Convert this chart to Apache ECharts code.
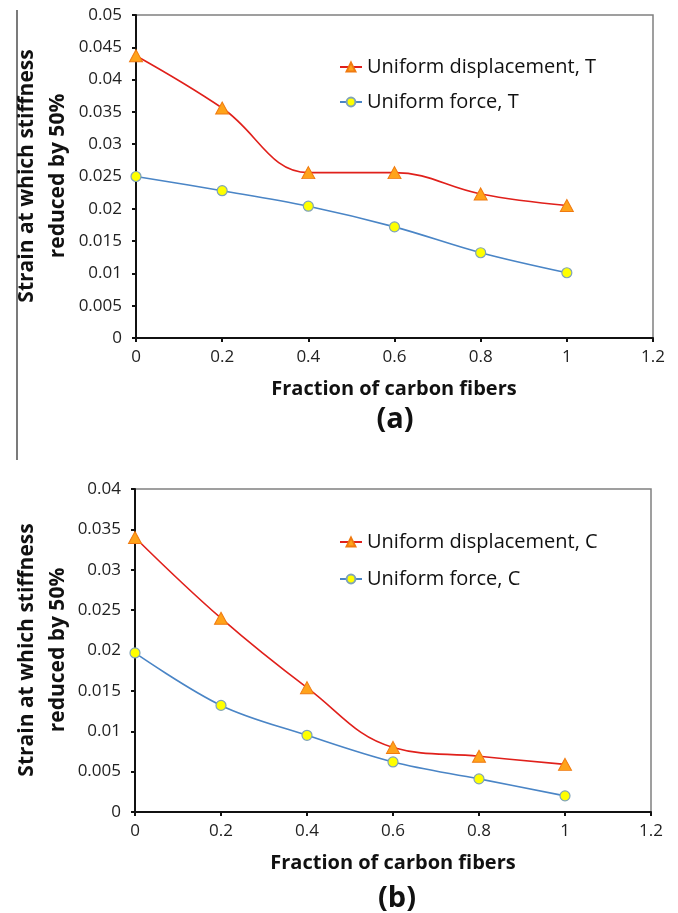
<!DOCTYPE html>
<html>
<head>
<meta charset="utf-8">
<script src="https://cdn.jsdelivr.net/npm/echarts@6/dist/echarts.min.js"></script>
<style>
html,body{margin:0;padding:0;background:#fff;}
#chart{width:678px;height:913px;}
</style>
</head>
<body>
<div id="chart"></div>
<script>
// ---- data ----
var xFractions = [0, 0.2, 0.4, 0.6, 0.8, 1];
var dispT  = [0.0437, 0.0356, 0.0256, 0.0256, 0.0223, 0.0205];
var forceT = [0.0250, 0.0228, 0.0204, 0.0172, 0.0132, 0.0101];
var dispC  = [0.0340, 0.0240, 0.0154, 0.0080, 0.0069, 0.0059];
var forceC = [0.0197, 0.0132, 0.0095, 0.0062, 0.0041, 0.0020];
var seriesNames = ['Uniform displacement, T', 'Uniform force, T', 'Uniform displacement, C', 'Uniform force, C'];
var yTitle = 'Strain at which stiffness\nreduced by 50%';
var xTitle = 'Fraction of carbon fibers';
var panelLabels = ['(a)', '(b)'];

function pairs(ys){ return xFractions.map(function(x,i){ return [x, ys[i]]; }); }

var FONT = '"Open Sans", "Liberation Sans", sans-serif';
var RED = '#E0201B', BLUE = '#4A85C6';

function xAxis(gi){
  return {
    type:'value', gridIndex:gi, min:0, max:1.2, interval:0.2,
    axisLine:{show:true, onZero:false, lineStyle:{color:'#111', width:2}},
    axisTick:{show:true, inside:false, length:4, lineStyle:{color:'#111', width:2}},
    axisLabel:{fontFamily:FONT, fontSize:17, color:'#222', margin:11},
    splitLine:{show:false}
  };
}
function yAxis(gi, max){
  return {
    type:'value', gridIndex:gi, min:0, max:max, interval:0.005,
    axisLine:{show:true, onZero:false, lineStyle:{color:'#111', width:2}},
    axisTick:{show:true, inside:false, length:4, lineStyle:{color:'#111', width:2}},
    axisLabel:{fontFamily:FONT, fontSize:17, color:'#222', margin:14},
    splitLine:{show:false}
  };
}
function dispSeries(name, ys, gi){
  return {
    name:name, type:'line', xAxisIndex:gi, yAxisIndex:gi, data:pairs(ys),
    smooth:0.4, symbol:'triangle', symbolSize:[13,12],
    lineStyle:{color:RED, width:1.6},
    itemStyle:{color:'#FFA31A', borderColor:'#F07A10', borderWidth:1},
    z:3
  };
}
function forceSeries(name, ys, gi){
  return {
    name:name, type:'line', xAxisIndex:gi, yAxisIndex:gi, data:pairs(ys),
    smooth:0.35, symbol:'circle', symbolSize:10,
    lineStyle:{color:BLUE, width:1.6},
    itemStyle:{color:'#FFFF00', borderColor:'#7FA3B8', borderWidth:1.2},
    z:3
  };
}
function legend(names, top, gap){
  return {
    data:names, orient:'vertical', left:334, top:top, itemGap:gap,
    itemWidth:22, itemHeight:11,
    textStyle:{fontFamily:FONT, fontSize:20, color:'#111', lineHeight:22}
  };
}

var option = {
  animation:false,
  backgroundColor:'#fff',
  grid:[
    {left:136, right:25, top:15, height:323, show:true, borderColor:'#808080', borderWidth:1.5, backgroundColor:'transparent'},
    {left:135, right:27, top:489, height:323, show:true, borderColor:'#808080', borderWidth:1.5, backgroundColor:'transparent'}
  ],
  xAxis:[xAxis(0), xAxis(1)],
  yAxis:[yAxis(0, 0.05), yAxis(1, 0.04)],
  legend:[legend([seriesNames[0], seriesNames[1]], 51, 13), legend([seriesNames[2], seriesNames[3]], 526, 15)],
  series:[
    dispSeries(seriesNames[0], dispT, 0),
    forceSeries(seriesNames[1], forceT, 0),
    dispSeries(seriesNames[2], dispC, 1),
    forceSeries(seriesNames[3], forceC, 1)
  ],
  graphic:[
    {type:'line', shape:{x1:17, y1:10, x2:17, y2:460}, style:{stroke:'#222', lineWidth:1.2}},
    {type:'text', x:43, y:176, rotation:Math.PI/2,
      style:{text:yTitle, fontFamily:FONT, fontWeight:'bold', fontSize:21, lineHeight:31, fill:'#111', align:'center', verticalAlign:'middle'}},
    {type:'text', x:43, y:650, rotation:Math.PI/2,
      style:{text:yTitle, fontFamily:FONT, fontWeight:'bold', fontSize:21, lineHeight:31, fill:'#111', align:'center', verticalAlign:'middle'}},
    {type:'text', x:394, y:389,
      style:{text:xTitle, fontFamily:FONT, fontWeight:'bold', fontSize:20, fill:'#111', align:'center', verticalAlign:'middle'}},
    {type:'text', x:393, y:863,
      style:{text:xTitle, fontFamily:FONT, fontWeight:'bold', fontSize:20, fill:'#111', align:'center', verticalAlign:'middle'}},
    {type:'text', x:395, y:420,
      style:{text:panelLabels[0], fontFamily:FONT, fontWeight:'bold', fontSize:29, fill:'#111', align:'center', verticalAlign:'middle'}},
    {type:'text', x:397, y:899,
      style:{text:panelLabels[1], fontFamily:FONT, fontWeight:'bold', fontSize:29, fill:'#111', align:'center', verticalAlign:'middle'}}
  ]
};
var chart = echarts.init(document.getElementById('chart'), null, {renderer:'canvas'});
chart.setOption(option);
</script>
</body>
</html>
